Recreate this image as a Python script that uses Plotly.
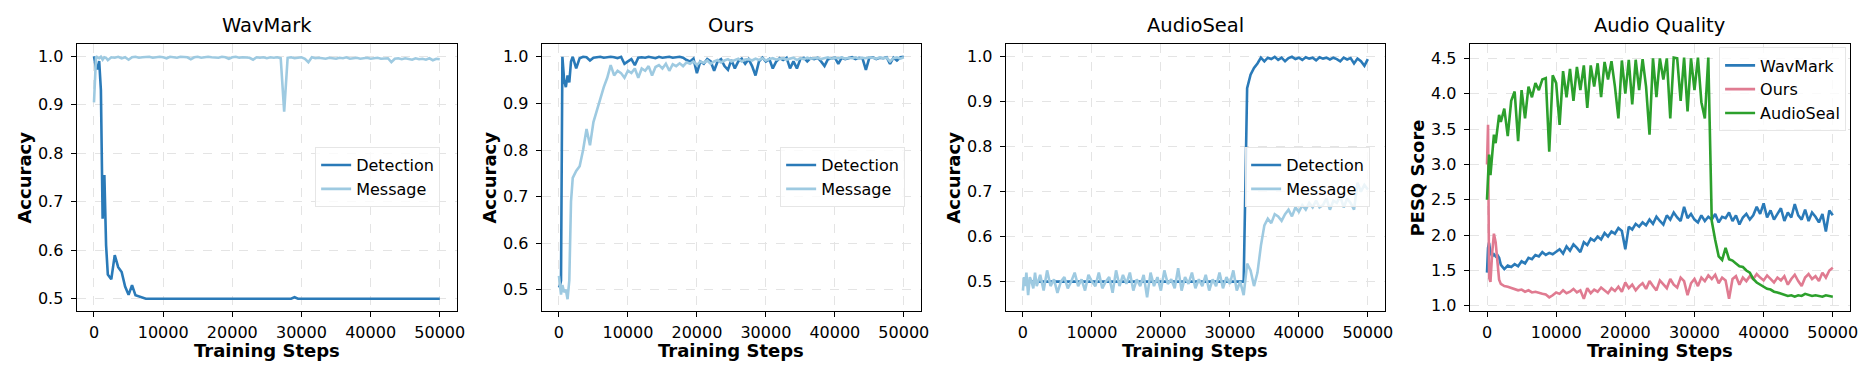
import plotly.graph_objects as go

W, H = 1868, 367

# training steps (dense at the very start, then every 500)
steps = [0, 150, 300, 500, 750, 1000, 1250, 1500, 1750] + list(range(2000, 50001, 500))

# WavMark accuracy
wm_det = [1.0, 0.985, 0.975, 0.975, 0.99, 0.93, 0.665, 0.755, 0.61, 0.55,
          0.54, 0.59, 0.565, 0.555, 0.525, 0.508, 0.528, 0.507, 0.505, 0.503,
          0.5, 0.5, 0.5, 0.5, 0.5, 0.5, 0.5, 0.5, 0.5, 0.5,
          0.5, 0.5, 0.5, 0.5, 0.5, 0.5, 0.5, 0.5, 0.5, 0.5,
          0.5, 0.5, 0.5, 0.5, 0.5, 0.5, 0.5, 0.5, 0.5, 0.5,
          0.5, 0.5, 0.5, 0.5, 0.5, 0.5, 0.5, 0.5, 0.5, 0.5,
          0.5, 0.5, 0.5, 0.503, 0.5, 0.5, 0.5, 0.5, 0.5, 0.5,
          0.5, 0.5, 0.5, 0.5, 0.5, 0.5, 0.5, 0.5, 0.5, 0.5,
          0.5, 0.5, 0.5, 0.5, 0.5, 0.5, 0.5, 0.5, 0.5, 0.5,
          0.5, 0.5, 0.5, 0.5, 0.5, 0.5, 0.5, 0.5, 0.5, 0.5,
          0.5, 0.5, 0.5, 0.5, 0.5, 0.5]
wm_msg = [0.905, 0.96, 1.0, 0.998, 0.996, 0.999, 0.993, 0.998, 0.997, 0.992,
          0.998, 0.997, 0.999, 0.996, 0.998, 0.993, 0.998, 0.999, 0.997, 0.998,
          0.998, 0.999, 0.997, 0.998, 0.999, 0.998, 0.996, 0.999, 0.998, 0.997,
          0.999, 0.998, 0.998, 0.994, 0.998, 0.999, 0.997, 0.998, 0.999, 0.998,
          0.998, 0.997, 0.999, 0.998, 0.995, 0.998, 0.999, 0.997, 0.998, 0.998,
          0.997, 0.993, 0.998, 0.997, 0.998, 0.996, 0.998, 0.997, 0.998, 0.996,
          0.886, 0.997, 0.998, 0.996, 0.997, 0.998, 0.995, 0.988, 0.998, 0.996,
          0.997, 0.996, 0.995, 0.997, 0.996, 0.995, 0.997, 0.996, 0.998, 0.995,
          0.996, 0.997, 0.995, 0.996, 0.997, 0.995, 0.996, 0.997, 0.995, 0.996,
          0.996, 0.988, 0.995, 0.996, 0.994, 0.996, 0.995, 0.993, 0.996, 0.994,
          0.995, 0.993, 0.996, 0.992, 0.995, 0.994]

# Ours accuracy
our_det = [0.505, 0.51, 0.52, 1.0, 0.95, 0.935, 0.96, 0.945, 0.99, 1.0,
           0.975, 0.997, 1.0, 0.999, 0.992, 0.998, 0.999, 1.0, 0.998, 0.999,
           1.0, 0.999, 0.997, 1.0, 0.985, 0.99, 0.995, 0.982, 0.998, 0.999,
           0.998, 1.0, 0.999, 0.997, 1.0, 0.998, 0.999, 1.0, 0.998, 0.999,
           1.0, 0.998, 0.993, 0.99, 0.996, 0.965, 0.99, 0.985, 0.995, 0.99,
           0.97, 0.99, 0.995, 0.98, 0.972, 0.993, 0.975, 0.99, 0.996, 0.985,
           0.995, 0.98, 0.96, 0.99, 0.998, 0.99, 0.995, 0.975, 0.99, 0.997,
           0.993, 0.998, 0.975, 0.99, 0.975, 0.995, 0.998, 0.99, 0.997, 0.995,
           0.998, 0.99, 0.98, 0.995, 0.997, 0.998, 0.985, 0.998, 0.995, 0.997,
           0.999, 0.995, 0.998, 0.997, 0.972, 0.998, 0.999, 0.995, 0.998, 0.997,
           0.999, 0.985, 0.998, 0.992, 0.999, 1.0]
our_msg = [0.53, 0.50, 0.49, 0.51, 0.495, 0.50, 0.48, 0.52, 0.69, 0.74,
           0.755, 0.765, 0.80, 0.845, 0.81, 0.86, 0.885, 0.915, 0.935, 0.955,
           0.982, 0.96, 0.97, 0.965, 0.955, 0.97, 0.965, 0.975, 0.955, 0.975,
           0.97, 0.98, 0.96, 0.978, 0.982, 0.975, 0.985, 0.97, 0.984, 0.98,
           0.986, 0.98, 0.988, 0.985, 0.99, 0.982, 0.99, 0.987, 0.992, 0.985,
           0.99, 0.993, 0.988, 0.992, 0.995, 0.99, 0.993, 0.996, 0.99, 0.994,
           0.995, 0.992, 0.996, 0.993, 0.997, 0.992, 0.995, 0.997, 0.994, 0.996,
           0.997, 0.994, 0.996, 0.998, 0.993, 0.997, 0.995, 0.998, 0.996, 0.997,
           0.998, 0.995, 0.997, 0.999, 0.996, 0.998, 0.997, 0.999, 0.996, 0.998,
           0.997, 0.999, 0.996, 0.998, 0.997, 0.999, 0.998, 0.996, 0.999, 0.997,
           0.998, 0.99, 0.997, 0.999, 0.996, 0.999]

# AudioSeal accuracy
as_det = [0.5, 0.5, 0.5, 0.5, 0.5, 0.5, 0.5, 0.5, 0.5, 0.5,
          0.5, 0.5, 0.5, 0.5, 0.5, 0.5, 0.5, 0.5, 0.5, 0.5,
          0.5, 0.5, 0.5, 0.5, 0.5, 0.5, 0.5, 0.5, 0.5, 0.5,
          0.5, 0.5, 0.5, 0.5, 0.5, 0.5, 0.5, 0.5, 0.5, 0.5,
          0.5, 0.5, 0.5, 0.5, 0.5, 0.5, 0.5, 0.5, 0.5, 0.5,
          0.5, 0.5, 0.5, 0.5, 0.5, 0.5, 0.5, 0.5, 0.5, 0.5,
          0.5, 0.5, 0.5, 0.5, 0.5, 0.5, 0.5, 0.5, 0.5, 0.5,
          0.93, 0.96, 0.975, 0.985, 0.998, 0.99, 0.998, 0.995, 1.0, 0.993,
          0.998, 0.99, 0.997, 1.0, 0.995, 0.998, 0.993, 0.999, 0.996, 0.998,
          0.992, 0.999, 0.996, 0.998, 0.994, 0.998, 0.995, 0.99, 0.998, 0.994,
          0.997, 0.985, 0.996, 0.99, 0.98, 0.995]
as_msg = [0.48, 0.51, 0.49, 0.52, 0.47, 0.51, 0.5, 0.485, 0.52, 0.49,
          0.515, 0.48, 0.525, 0.49, 0.505, 0.475, 0.5, 0.51, 0.485, 0.5,
          0.52, 0.49, 0.505, 0.48, 0.515, 0.5, 0.49, 0.52, 0.485, 0.5,
          0.51, 0.475, 0.525, 0.49, 0.515, 0.495, 0.52, 0.48, 0.505, 0.49,
          0.515, 0.465, 0.52, 0.49, 0.51, 0.48, 0.525, 0.495, 0.505, 0.485,
          0.53, 0.48, 0.51, 0.495, 0.52, 0.485, 0.505, 0.49, 0.515, 0.48,
          0.505, 0.49, 0.52, 0.485, 0.51, 0.495, 0.525, 0.48, 0.5, 0.47,
          0.54, 0.525, 0.49, 0.52, 0.58, 0.625, 0.64, 0.63, 0.65, 0.645,
          0.635, 0.65, 0.66, 0.645, 0.665, 0.655, 0.67, 0.66, 0.675, 0.665,
          0.68, 0.665, 0.67, 0.685, 0.66, 0.68, 0.675, 0.69, 0.665, 0.685,
          0.675, 0.66, 0.72, 0.70, 0.715, 0.705]

# PESQ
wm_pesq = [1.47, 1.82, 1.89, 1.75, 1.70, 1.73, 1.70, 1.72, 1.68, 1.58,
           1.52, 1.57, 1.55, 1.59, 1.56, 1.63, 1.60, 1.68, 1.66, 1.72,
           1.70, 1.76, 1.72, 1.75, 1.73, 1.76, 1.80, 1.74, 1.84, 1.78,
           1.87, 1.82, 1.76, 1.90, 1.86, 1.95, 1.92, 1.98, 1.94, 2.03,
           1.98, 2.05, 2.02, 2.10, 2.06, 1.80, 2.12, 2.08, 2.16, 2.12,
           2.18, 2.14, 2.22, 2.16, 2.26, 2.20, 2.15, 2.28, 2.22, 2.32,
           2.25, 2.20, 2.40, 2.24, 2.30, 2.22, 2.18, 2.28, 2.20, 2.26,
           2.22, 2.30, 2.18, 2.26, 2.24, 2.32, 2.20, 2.28, 2.15, 2.25,
           2.30, 2.22, 2.28, 2.40, 2.30, 2.45, 2.25, 2.35, 2.22, 2.30,
           2.38, 2.20, 2.32, 2.25, 2.44, 2.28, 2.22, 2.36, 2.20, 2.32,
           2.26, 2.18, 2.30, 2.05, 2.35, 2.28]
our_pesq = [3.0, 3.56, 1.40, 1.34, 1.75, 2.02, 1.90, 1.58, 1.37, 1.31,
            1.28, 1.27, 1.25, 1.24, 1.22, 1.23, 1.20, 1.22, 1.19, 1.20,
            1.18, 1.17, 1.16, 1.12, 1.15, 1.19, 1.17, 1.22, 1.18, 1.20,
            1.24, 1.19, 1.22, 1.10, 1.25, 1.18, 1.23, 1.20, 1.26, 1.22,
            1.18, 1.25, 1.21, 1.27, 1.20, 1.33, 1.25, 1.30, 1.22, 1.28,
            1.32, 1.24, 1.35, 1.28, 1.22, 1.36, 1.30, 1.25, 1.38, 1.30,
            1.26, 1.40, 1.35, 1.15, 1.32, 1.38, 1.28, 1.40, 1.35, 1.43,
            1.38, 1.44, 1.32, 1.40, 1.36, 1.10, 1.38, 1.42, 1.30, 1.40,
            1.35, 1.42, 1.38, 1.45, 1.40, 1.36, 1.43, 1.38, 1.33, 1.40,
            1.36, 1.42, 1.30, 1.38, 1.44, 1.35, 1.28, 1.40, 1.45, 1.38,
            1.42, 1.35, 1.47, 1.40, 1.50, 1.54]
as_pesq = [2.5, 2.9, 3.14, 2.85, 3.1, 3.42, 3.3, 3.55, 3.7, 3.6,
           3.79, 3.40, 3.90, 4.03, 3.33, 4.05, 3.65, 4.10, 3.95, 4.15,
           4.05, 4.20, 4.22, 3.18, 4.26, 4.15, 3.56, 4.32, 3.95, 4.35,
           3.90, 4.38, 4.05, 4.40, 3.80, 4.40, 4.10, 4.43, 3.95, 4.45,
           4.20, 4.46, 4.10, 3.65, 4.47, 4.00, 4.48, 3.85, 4.48, 4.05,
           4.49, 4.10, 3.42, 4.50, 3.95, 4.50, 4.20, 4.50, 3.65, 4.51,
           4.50, 3.90, 4.51, 3.75, 4.50, 4.05, 4.51, 3.88, 3.65, 4.51,
           2.20, 1.93, 1.70, 1.65, 1.82, 1.66, 1.64, 1.60, 1.56, 1.55,
           1.50, 1.47, 1.38, 1.33, 1.30, 1.28, 1.24, 1.23, 1.20, 1.19,
           1.17, 1.16, 1.14, 1.15, 1.13, 1.15, 1.14, 1.17, 1.15, 1.14,
           1.15, 1.14, 1.13, 1.15, 1.14, 1.13]

titles = ["WavMark", "Ours", "AudioSeal", "Audio Quality"]
y_labels = ["Accuracy", "Accuracy", "Accuracy", "PESQ Score"]
x_ticks = [0, 10000, 20000, 30000, 40000, 50000]
x_tick_text = ["0", "10000", "20000", "30000", "40000", "50000"]
acc_ticks = [0.5, 0.6, 0.7, 0.8, 0.9, 1.0]
pesq_ticks = [1.0, 1.5, 2.0, 2.5, 3.0, 3.5, 4.0, 4.5]

C_DET = "#2a7ab8"
C_MSG = "#9ecae1"
C_OURS = "#e07b91"
C_AS = "#2ca02c"
FONT = "DejaVu Sans"

# panel boxes in pixels (left, right), shared top/bottom
panel_px = [(69, 451), (536, 917), (1002, 1383), (1468, 1850)]
top_px, bot_px = 36.7, 307
y_ranges = [[0.475, 1.025], [0.455, 1.027], [0.435, 1.028], [0.93, 4.70]]

fig = go.Figure()

acc_sets = [(wm_det, wm_msg), (our_det, our_msg), (as_det, as_msg)]
for i, (det, msg) in enumerate(acc_sets):
    sfx = "" if i == 0 else str(i + 1)
    fig.add_trace(go.Scatter(x=steps, y=det, mode="lines", name="Detection",
                             line=dict(color=C_DET, width=2.6),
                             xaxis="x" + sfx, yaxis="y" + sfx, legend="legend" + sfx))
    fig.add_trace(go.Scatter(x=steps, y=msg, mode="lines", name="Message",
                             line=dict(color=C_MSG, width=2.6),
                             xaxis="x" + sfx, yaxis="y" + sfx, legend="legend" + sfx))

for name, ys, col in [("WavMark", wm_pesq, C_DET), ("Ours", our_pesq, C_OURS), ("AudioSeal", as_pesq, C_AS)]:
    fig.add_trace(go.Scatter(x=steps, y=ys, mode="lines", name=name,
                             line=dict(color=col, width=2.6),
                             xaxis="x4", yaxis="y4", legend="legend4"))

axis_style = dict(showline=True, mirror=True, linecolor="black", linewidth=1.2,
                  ticks="outside", ticklen=5, tickwidth=1.2, tickcolor="black",
                  showgrid=True, gridcolor="#e4e4e4", griddash="dash", gridwidth=1,
                  zeroline=False, tickfont=dict(family=FONT, size=16, color="black"))

layout = {}
annotations = []
for i, (x0, x1) in enumerate(panel_px):
    sfx = "" if i == 0 else str(i + 1)
    layout["xaxis" + sfx] = dict(axis_style, domain=[x0 / W, x1 / W], anchor="y" + sfx,
                                 range=[-2500, 52500], tickvals=x_ticks, ticktext=x_tick_text,
                                 ticklabelstandoff=2)
    layout["yaxis" + sfx] = dict(axis_style, domain=[1 - bot_px / H, 1 - top_px / H], anchor="x" + sfx,
                                 range=y_ranges[i], tickvals=pesq_ticks if i == 3 else acc_ticks,
                                 tickformat=".1f", ticklabelstandoff=4)
    cx = (x0 + x1) / 2 / W
    annotations.append(dict(text=titles[i], x=cx, y=1 - 17.5 / H, xref="paper", yref="paper",
                            showarrow=False, xanchor="center", yanchor="middle",
                            font=dict(family=FONT, size=19.5, color="black")))
    annotations.append(dict(text=y_labels[i], x=(x0 - 52) / W, y=1 - 172 / H, xref="paper", yref="paper",
                            showarrow=False, textangle=-90, xanchor="center", yanchor="middle",
                            font=dict(family=FONT, size=18, color="black", weight="bold")))
    annotations.append(dict(text="Training Steps", x=cx, y=1 - 347 / H, xref="paper", yref="paper",
                            showarrow=False, xanchor="center", yanchor="middle",
                            font=dict(family=FONT, size=18, color="black", weight="bold")))

leg_style = dict(bgcolor="rgba(255,255,255,0.8)", bordercolor="#e6e6e6", borderwidth=1,
                 font=dict(family=FONT, size=16, color="black"), xanchor="right")
layout["legend"] = dict(leg_style, x=434 / W, y=1 - 171.5 / H, yanchor="middle")
layout["legend2"] = dict(leg_style, x=901 / W, y=1 - 171.5 / H, yanchor="middle")
layout["legend3"] = dict(leg_style, x=1368 / W, y=1 - 171.5 / H, yanchor="middle")
layout["legend4"] = dict(leg_style, x=1846 / W, y=1 - 40 / H, yanchor="top")

fig.update_layout(
    width=W, height=H,
    margin=dict(l=0, r=0, t=0, b=0),
    paper_bgcolor="white", plot_bgcolor="white",
    font=dict(family=FONT, color="black"),
    annotations=annotations,
    **layout
)

fig.write_html("out.html")
